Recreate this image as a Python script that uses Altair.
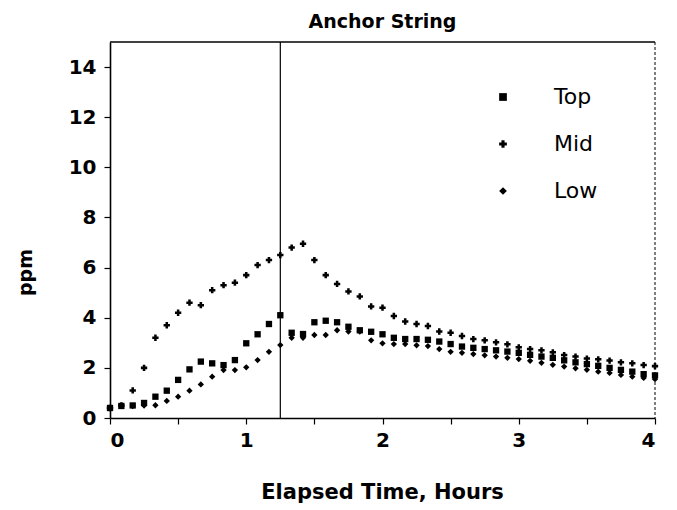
import altair as alt
import pandas as pd

# sampling times, minutes after start
minutes = [0, 5, 10, 15, 20, 25, 30, 35, 40, 45, 50, 55, 60, 65, 70, 75, 80, 85,
           90, 95, 100, 105, 110, 115, 120, 125, 130, 135, 140, 145, 150, 155,
           160, 165, 170, 175, 180, 185, 190, 195, 200, 205, 210, 215, 220, 225,
           230, 235, 240]

top = [0.40, 0.48, 0.50, 0.60, 0.85, 1.09, 1.52, 1.94, 2.25, 2.18, 2.11, 2.31,
       2.98, 3.34, 3.75, 4.10, 3.40, 3.35, 3.82, 3.88, 3.82, 3.64, 3.50, 3.44,
       3.34, 3.20, 3.15, 3.15, 3.12, 3.05, 2.95, 2.85, 2.80, 2.75, 2.70, 2.65,
       2.60, 2.52, 2.45, 2.40, 2.30, 2.22, 2.15, 2.08, 2.00, 1.92, 1.85, 1.75,
       1.70]

mid = [0.40, 0.50, 1.10, 2.00, 3.20, 3.70, 4.20, 4.60, 4.50, 5.10, 5.30, 5.40,
       5.70, 6.10, 6.30, 6.50, 6.80, 6.95, 6.30, 5.70, 5.35, 5.05, 4.85, 4.45,
       4.40, 4.07, 3.85, 3.75, 3.67, 3.45, 3.40, 3.27, 3.15, 3.10, 3.02, 2.94,
       2.82, 2.75, 2.70, 2.62, 2.51, 2.45, 2.37, 2.34, 2.29, 2.22, 2.18, 2.11,
       2.07]

low = [0.40, 0.48, 0.48, 0.50, 0.51, 0.68, 0.85, 1.09, 1.34, 1.65, 1.91, 1.91,
       2.02, 2.31, 2.64, 2.91, 3.20, 3.20, 3.31, 3.31, 3.50, 3.45, 3.45, 3.10,
       2.98, 2.95, 2.95, 2.90, 2.87, 2.75, 2.64, 2.60, 2.55, 2.50, 2.45, 2.40,
       2.35, 2.28, 2.20, 2.12, 2.05, 1.98, 1.92, 1.85, 1.80, 1.72, 1.65, 1.60,
       1.55]

series_names = ["Top", "Mid", "Low"]
series_shapes = ["square", "cross", "diamond"]
x_ticks = [0, 0.5, 1, 1.5, 2, 2.5, 3, 3.5, 4]
y_ticks = [0, 1, 2, 3, 4, 5, 6, 7, 8, 9, 10, 11, 12, 13, 14]
marker_hours = [1.25]
end_hours = [4]
top_frame = [15]

rows = []
for name, vals in zip(series_names, [top, mid, low]):
    for m, v in zip(minutes, vals):
        rows.append({"hours": m / 60.0, "ppm": v, "series": name})
df = pd.DataFrame(rows)

FONT = "DejaVu Sans"

xscale = alt.Scale(domain=[0, 4], nice=False, zero=False)
yscale = alt.Scale(domain=[0, 15], nice=False)

points = alt.Chart(df).mark_point(filled=True, opacity=1, color="black", size=40).encode(
    x=alt.X("hours:Q", scale=xscale,
            axis=alt.Axis(values=x_ticks, grid=False,
                          labelExpr="datum.value % 1 == 0 ? format(datum.value, 'd') : ''",
                          title="Elapsed Time, Hours", titleX=272, titleY=74,
                          titleBaseline="middle", titleFontSize=21)),
    y=alt.Y("ppm:Q", scale=yscale,
            axis=alt.Axis(values=y_ticks, grid=False,
                          labelExpr="datum.value % 2 == 0 ? format(datum.value, 'd') : ''",
                          title="ppm", titleX=-85, titleY=230, titleBaseline="middle")),
    shape=alt.Shape("series:N", scale=alt.Scale(domain=series_names, range=series_shapes),
                    legend=alt.Legend(title=None, orient="none", legendX=382, legendY=44,
                                      labelFontSize=22, labelFont=FONT, symbolSize=60,
                                      symbolFillColor="black", symbolStrokeColor="black",
                                      labelColor="black",
                                      rowPadding=25, labelOffset=40)),
)

vline = alt.Chart(pd.DataFrame({"h": marker_hours})).mark_rule(
    color="black", strokeWidth=1.2).encode(x=alt.X("h:Q", scale=xscale))
rline = alt.Chart(pd.DataFrame({"h": end_hours})).mark_rule(
    color="black", strokeWidth=1, strokeDash=[3, 2]).encode(x=alt.X("h:Q", scale=xscale))
tline = alt.Chart(pd.DataFrame({"v": top_frame})).mark_rule(
    color="black", strokeWidth=1.6).encode(y=alt.Y("v:Q", scale=yscale))

chart = alt.layer(vline, rline, tline, points).properties(
    width=545, height=376,
    autosize=alt.AutoSizeParams(type="none"),
    padding={"left": 110, "top": 42, "right": 22, "bottom": 92},
    title=alt.TitleParams("Anchor String", fontSize=19, font=FONT, fontWeight="bold",
                          offset=9, anchor="middle"),
).configure_view(stroke=None).configure_axis(
    domainColor="black", domainWidth=1.6, tickColor="black", tickWidth=1.2,
    labelFont=FONT, labelFontSize=20, labelColor="black", labelFontWeight="bold",
    titleFont=FONT, titleFontSize=19, titleColor="black", titleFontWeight="bold",
    tickSize=6,
).configure_axisY(labelPadding=8).configure_axisX(labelPadding=6)

chart.save("out.html", embed_options={"renderer": "svg", "actions": False})
